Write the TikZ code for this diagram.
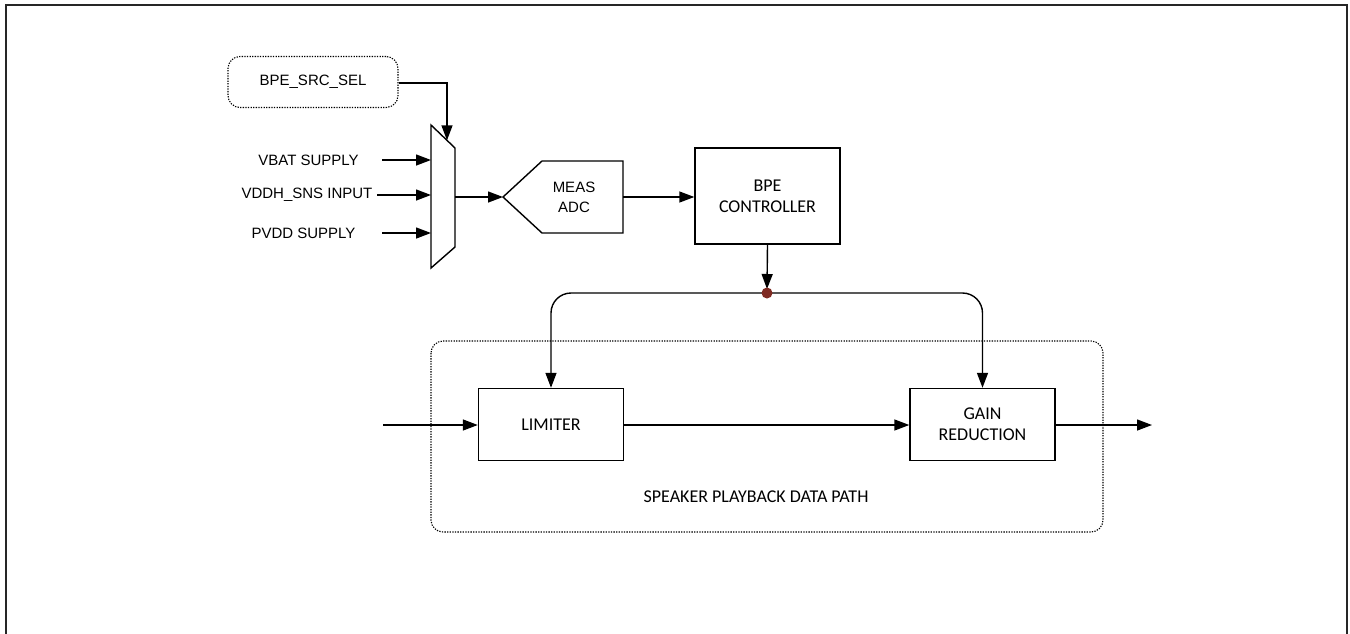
\documentclass[tikz,border=0pt]{standalone}
\usepackage{fontspec}
\usetikzlibrary{arrows.meta,positioning}
\newfontfamily\arialf{Liberation Sans}
\newfontfamily\calibf{Carlito}
\definecolor{dotred}{HTML}{7F2A22}
\tikzset{
  line/.style={line width=1.4pt, draw=black},
  arr/.style={line, -{Triangle[length=15pt,width=11pt]}},
  blockbox/.style={draw, line width=1.4pt, minimum width=145pt, font=\calibf\fontsize{18}{21}\selectfont, align=center, inner sep=0pt},
  lbl/.style={font=\arialf\fontsize{15}{20}\selectfont, inner sep=0pt, align=center},
  dotbox/.style={draw, line width=1.1pt, dash pattern=on 1.3pt off 1.3pt, rounded corners=12pt},
}
\begin{document}
\begin{tikzpicture}[x=1pt,y=-1pt]
\useasboundingbox (0,0) rectangle (1350,633);
% outer frame
\draw[line width=2pt, draw=black!85] (6,640) -- (6,5) -- (1347,5) -- (1347,640);

% source select
\node[dotbox, minimum width=170pt, minimum height=51pt, lbl] (src) at (313,82) {BPE\_SRC\_SEL};

% mux
\draw[line] (431,125) -- (455,148) -- (455,247) -- (431,268) -- cycle;
\coordinate (muxsel) at (447,140.3);
\coordinate (muxin1) at (431,160);
\coordinate (muxin2) at (431,195);
\coordinate (muxin3) at (431,233);
\coordinate (muxout) at (455,197);
\draw[arr] (src.east |- 0,83) -| (muxsel);

\node[lbl] (vbat) at (308.5,160) {VBAT SUPPLY};
\node[lbl] (vddh) at (307,195) {VDDH\_SNS INPUT};
\node[lbl] (pvdd) at (303.5,233) {PVDD SUPPLY};
\coordinate (s1) at (382,160);
\coordinate (s2) at (377,195);
\coordinate (s3) at (382,233);
\draw[arr] (s1) -- (muxin1);
\draw[arr] (s2) -- (muxin2);
\draw[arr] (s3) -- (muxin3);

% ADC
\draw[line] (503,197) -- (542,161) -- (623,161) -- (623,233) -- (542,233) -- cycle;
\coordinate (adctip) at (503,197);
\coordinate (adcout) at (623,197);
\node[lbl] (adc) at (574,197) {MEAS\\ADC};
\draw[arr] (muxout) -- (adctip);

% controller
\node[blockbox, minimum height=96pt] (ctrl) at (767.5,196) {BPE\\CONTROLLER};
\draw[arr] (adcout) -- (ctrl.west |- adcout);

% container
\draw[dotbox] (431,341) rectangle (1103,532);
\node[font=\calibf\fontsize{18}{21}\selectfont, inner sep=0pt] (dplbl) at (756,497) {SPEAKER PLAYBACK DATA PATH};

% limiter and gain
\node[blockbox, minimum height=72pt] (lim) at (551,424.5) {LIMITER};
\node[blockbox, minimum height=72pt] (gain) at (982.5,424.5) {GAIN\\REDUCTION};

\coordinate (dot) at (767,293);
\draw[arr, rounded corners=20pt] (dot) -| (lim.north);
\draw[arr, rounded corners=20pt] (dot) -| (gain.north);
\draw[arr] (ctrl.south) -- ([yshift=4pt]dot);
\fill[dotred] (dot) circle (5.5pt);

\coordinate (in) at (383,425);
\coordinate (out) at (1152,425);
\draw[arr] (in) -- (lim.west |- in);
\draw[arr] (lim.east |- in) -- (gain.west |- in);
\draw[arr] (gain.east |- out) -- (out);
\end{tikzpicture}
\end{document}
